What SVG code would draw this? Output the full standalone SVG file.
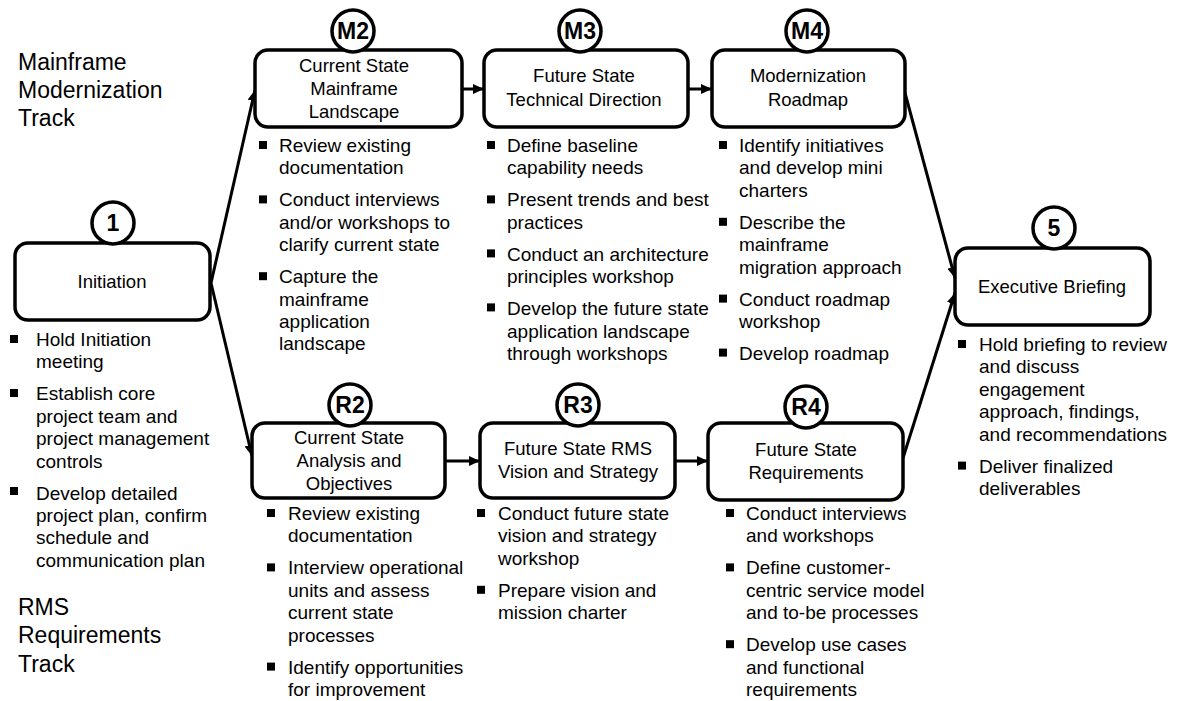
<svg xmlns="http://www.w3.org/2000/svg" width="1177" height="701" viewBox="0 0 1177 701">
<defs>
<style>
text{font-family:"Liberation Sans",Arial,sans-serif;fill:#000}
.trk{font-size:23px}
.ttl{font-size:18.5px;text-anchor:middle}
.bul{font-size:19px}
.num{font-size:23px;font-weight:bold;text-anchor:middle}
.box{fill:#fff;stroke:#000;stroke-width:3.5}
.cir{fill:#fff;stroke:#000;stroke-width:3.5}
.sq{fill:#000}
.con{stroke:#000;stroke-width:3;fill:none}
</style>
<marker id="ah" markerUnits="userSpaceOnUse" markerWidth="12" markerHeight="10" refX="11" refY="5" orient="auto">
<path d="M0,0 L11,5 L0,10 z" fill="#000"/>
</marker>
</defs>
<rect width="1177" height="701" fill="#fff"/>

<g id="track-labels">
<text class="trk" x="18"><tspan x="18" y="70">Mainframe</tspan><tspan x="18" y="98">Modernization</tspan><tspan x="18" y="126">Track</tspan></text>
<text class="trk" x="18"><tspan x="18" y="615">RMS</tspan><tspan x="18" y="643">Requirements</tspan><tspan x="18" y="672">Track</tspan></text>
</g>

<g id="connectors">
<line class="con" x1="462" y1="89" x2="484" y2="89" marker-end="url(#ah)"/>
<line class="con" x1="688" y1="89" x2="712" y2="89" marker-end="url(#ah)"/>
<line class="con" x1="445" y1="461" x2="480" y2="461" marker-end="url(#ah)"/>
<line class="con" x1="675" y1="461" x2="708" y2="461" marker-end="url(#ah)"/>
<line class="con" x1="211" y1="283" x2="255" y2="90" marker-end="url(#ah)"/>
<line class="con" x1="211" y1="283" x2="252" y2="456" marker-end="url(#ah)"/>
<line class="con" x1="905" y1="93" x2="955" y2="278" marker-end="url(#ah)"/>
<line class="con" x1="903" y1="458" x2="955" y2="293" marker-end="url(#ah)"/>
</g>

<g id="node-1">
<rect class="box" x="15" y="243" width="195" height="77" rx="13"/>
<circle class="cir" cx="113" cy="223" r="21"/>
<text class="num" x="113" y="231">1</text>
<text class="ttl" x="112" y="288">Initiation</text>
<rect class="sq" x="10" y="335" width="8" height="8"/>
<rect class="sq" x="10" y="389" width="8" height="8"/>
<rect class="sq" x="10" y="487" width="8" height="8"/>
<text class="bul"><tspan x="36" y="346">Hold Initiation</tspan><tspan x="36" y="368.4">meeting</tspan><tspan x="36" y="400.4">Establish core</tspan><tspan x="36" y="422.8">project team and</tspan><tspan x="36" y="445.2">project management</tspan><tspan x="36" y="467.6">controls</tspan><tspan x="36" y="499.6">Develop detailed</tspan><tspan x="36" y="522">project plan, confirm</tspan><tspan x="36" y="544.4">schedule and</tspan><tspan x="36" y="566.8">communication plan</tspan></text>
</g>

<g id="node-M2">
<rect class="box" x="255" y="50" width="207" height="77" rx="13"/>
<circle class="cir" cx="353" cy="31" r="21"/>
<text class="num" x="353" y="39">M2</text>
<text class="ttl"><tspan x="354" y="71.5">Current State</tspan><tspan x="354" y="94.5">Mainframe</tspan><tspan x="354" y="117.5">Landscape</tspan></text>
<rect class="sq" x="259" y="141" width="8" height="8"/>
<rect class="sq" x="259" y="195.4" width="8" height="8"/>
<rect class="sq" x="259" y="272.2" width="8" height="8"/>
<text class="bul"><tspan x="279" y="152">Review existing</tspan><tspan x="279" y="174.4">documentation</tspan><tspan x="279" y="206.4">Conduct interviews</tspan><tspan x="279" y="228.8">and/or workshops to</tspan><tspan x="279" y="251.2">clarify current state</tspan><tspan x="279" y="283.2">Capture the</tspan><tspan x="279" y="305.6">mainframe</tspan><tspan x="279" y="328">application</tspan><tspan x="279" y="350.4">landscape</tspan></text>
</g>

<g id="node-M3">
<rect class="box" x="484" y="50" width="204" height="77" rx="13"/>
<circle class="cir" cx="580" cy="31" r="21"/>
<text class="num" x="580" y="39">M3</text>
<text class="ttl"><tspan x="584" y="82">Future State</tspan><tspan x="584" y="106">Technical Direction</tspan></text>
<rect class="sq" x="487" y="141" width="8" height="8"/>
<rect class="sq" x="487" y="195.4" width="8" height="8"/>
<rect class="sq" x="487" y="249.4" width="8" height="8"/>
<rect class="sq" x="487" y="303.4" width="8" height="8"/>
<text class="bul"><tspan x="507" y="152">Define baseline</tspan><tspan x="507" y="174.4">capability needs</tspan><tspan x="507" y="206.4">Present trends and best</tspan><tspan x="507" y="228.8">practices</tspan><tspan x="507" y="260.8">Conduct an architecture</tspan><tspan x="507" y="283.2">principles workshop</tspan><tspan x="507" y="315.2">Develop the future state</tspan><tspan x="507" y="337.6">application landscape</tspan><tspan x="507" y="360">through workshops</tspan></text>
</g>

<g id="node-M4">
<rect class="box" x="712" y="50" width="193" height="77" rx="13"/>
<circle class="cir" cx="807" cy="31" r="21"/>
<text class="num" x="807" y="39">M4</text>
<text class="ttl"><tspan x="808" y="82">Modernization</tspan><tspan x="808" y="106">Roadmap</tspan></text>
<rect class="sq" x="719" y="141" width="8" height="8"/>
<rect class="sq" x="719" y="217.8" width="8" height="8"/>
<rect class="sq" x="719" y="294.6" width="8" height="8"/>
<rect class="sq" x="719" y="348.6" width="8" height="8"/>
<text class="bul"><tspan x="739" y="152">Identify initiatives</tspan><tspan x="739" y="174.4">and develop mini</tspan><tspan x="739" y="196.8">charters</tspan><tspan x="739" y="228.8">Describe the</tspan><tspan x="739" y="251.2">mainframe</tspan><tspan x="739" y="273.6">migration approach</tspan><tspan x="739" y="305.6">Conduct roadmap</tspan><tspan x="739" y="328">workshop</tspan><tspan x="739" y="360">Develop roadmap</tspan></text>
</g>

<g id="node-5">
<rect class="box" x="955" y="248" width="195" height="77" rx="13"/>
<circle class="cir" cx="1054" cy="228" r="21"/>
<text class="num" x="1054" y="236">5</text>
<text class="ttl" x="1052" y="293">Executive Briefing</text>
<rect class="sq" x="958" y="340" width="8" height="8"/>
<rect class="sq" x="958" y="461.6" width="8" height="8"/>
<text class="bul"><tspan x="979" y="351">Hold briefing to review</tspan><tspan x="979" y="373.4">and discuss</tspan><tspan x="979" y="395.8">engagement</tspan><tspan x="979" y="418.2">approach, findings,</tspan><tspan x="979" y="440.6">and recommendations</tspan><tspan x="979" y="472.6">Deliver finalized</tspan><tspan x="979" y="495">deliverables</tspan></text>
</g>

<g id="node-R2">
<rect class="box" x="252" y="423" width="193" height="75" rx="13"/>
<circle class="cir" cx="350" cy="405" r="21"/>
<text class="num" x="350" y="413">R2</text>
<text class="ttl"><tspan x="349" y="443.5">Current State</tspan><tspan x="349" y="466.5">Analysis and</tspan><tspan x="349" y="489.5">Objectives</tspan></text>
<rect class="sq" x="267" y="509" width="8" height="8"/>
<rect class="sq" x="267" y="563.4" width="8" height="8"/>
<rect class="sq" x="267" y="662.6" width="8" height="8"/>
<text class="bul"><tspan x="288" y="520">Review existing</tspan><tspan x="288" y="542.4">documentation</tspan><tspan x="288" y="574.4">Interview operational</tspan><tspan x="288" y="596.8">units and assess</tspan><tspan x="288" y="619.2">current state</tspan><tspan x="288" y="641.6">processes</tspan><tspan x="288" y="673.6">Identify opportunities</tspan><tspan x="288" y="696">for improvement</tspan></text>
</g>

<g id="node-R3">
<rect class="box" x="480" y="423" width="195" height="75" rx="13"/>
<circle class="cir" cx="578" cy="405" r="21"/>
<text class="num" x="578" y="413">R3</text>
<text class="ttl"><tspan x="578" y="455">Future State RMS</tspan><tspan x="578" y="478">Vision and Strategy</tspan></text>
<rect class="sq" x="477" y="509" width="8" height="8"/>
<rect class="sq" x="477" y="585.8" width="8" height="8"/>
<text class="bul"><tspan x="498" y="520">Conduct future state</tspan><tspan x="498" y="542.4">vision and strategy</tspan><tspan x="498" y="564.8">workshop</tspan><tspan x="498" y="596.8">Prepare vision and</tspan><tspan x="498" y="619.2">mission charter</tspan></text>
</g>

<g id="node-R4">
<rect class="box" x="708" y="423" width="195" height="77" rx="13"/>
<circle class="cir" cx="806" cy="407" r="21"/>
<text class="num" x="806" y="415">R4</text>
<text class="ttl"><tspan x="806" y="456">Future State</tspan><tspan x="806" y="479">Requirements</tspan></text>
<rect class="sq" x="726" y="509" width="8" height="8"/>
<rect class="sq" x="726" y="563.4" width="8" height="8"/>
<rect class="sq" x="726" y="640.2" width="8" height="8"/>
<text class="bul"><tspan x="746" y="520">Conduct interviews</tspan><tspan x="746" y="542.4">and workshops</tspan><tspan x="746" y="574.4">Define customer-</tspan><tspan x="746" y="596.8">centric service model</tspan><tspan x="746" y="619.2">and to-be processes</tspan><tspan x="746" y="651.2">Develop use cases</tspan><tspan x="746" y="673.6">and functional</tspan><tspan x="746" y="696">requirements</tspan></text>
</g>
</svg>
